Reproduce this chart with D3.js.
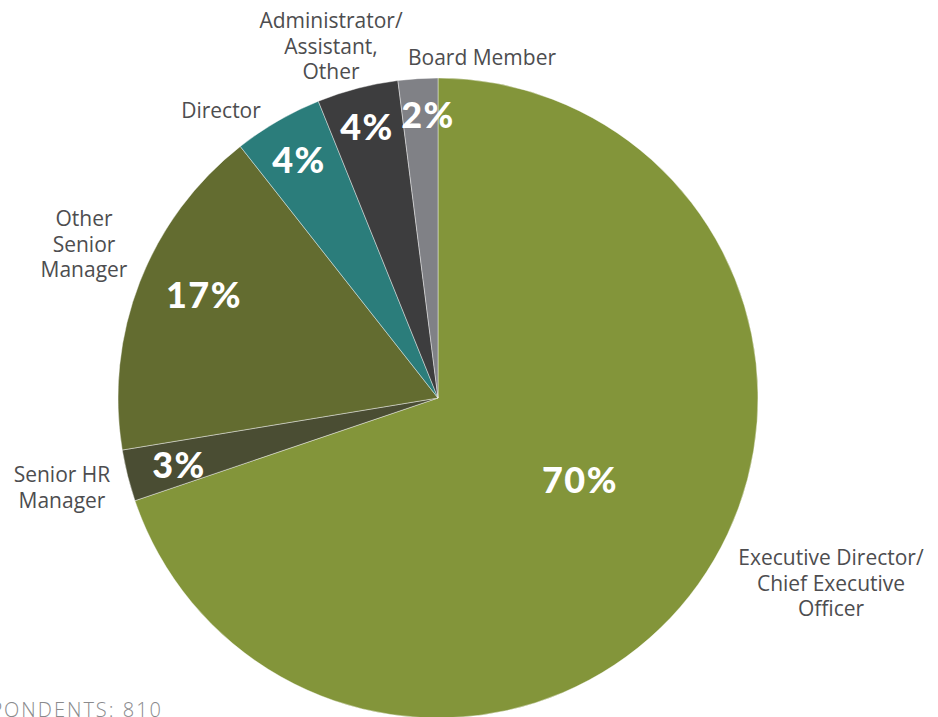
<!DOCTYPE html>
<html>
<head>
<meta charset="utf-8">
<script src="https://cdn.jsdelivr.net/npm/d3@7"></script>
<style>
  body { margin: 0; background: #fff; }
  svg { display: block; }
</style>
</head>
<body>
<div id="chart"></div>
<script>
var roles = ["Executive Director/\nChief Executive\nOfficer", "Senior HR\nManager",
             "Other\nSenior\nManager", "Director", "Administrator/\nAssistant,\nOther", "Board Member"];
var shares = [69.8, 2.6, 17.0, 4.5, 4.1, 2.0];
var pctLabels = ["70%", "3%", "17%", "4%", "4%", "2%"];
var colors = ["#83953a", "#4a4d33", "#636c30", "#2b7d7b", "#3d3d3e", "#808186"];

var width = 938, height = 717;
var cx = 438, cy = 398, radius = 320;

// label placement (x, first baseline) per slice
var pctPos = [[580, 493], [179, 478], [204, 308], [299, 173], [367, 140], [428, 128]];
var namePos = [[831, 565], [62, 482], [84, 226], [221, 118], [331, 28], [482, 65]];

var svg = d3.select("#chart")
    .append("svg")
    .attr("width", width)
    .attr("height", height);

var pie = d3.pie().sort(null).value(function(d) { return d; });
var arc = d3.arc().innerRadius(0).outerRadius(radius);

var g = svg.append("g")
    .attr("transform", "translate(" + cx + "," + cy + ")");

g.selectAll("path")
    .data(pie(shares))
    .enter()
    .append("path")
    .attr("d", arc)
    .attr("fill", function(d, i) { return colors[i]; })
    .attr("stroke", "#ffffff")
    .attr("stroke-width", 0.6)
    .attr("stroke-opacity", 0.7);

svg.selectAll(".pct")
    .data(pctLabels)
    .enter()
    .append("text")
    .attr("class", "pct")
    .attr("x", function(d, i) { return pctPos[i][0]; })
    .attr("y", function(d, i) { return pctPos[i][1]; })
    .attr("text-anchor", "middle")
    .style("font-family", "Lato, 'Open Sans', sans-serif")
    .style("font-weight", "900")
    .style("font-size", "36px")
    .style("letter-spacing", "1.5px")
    .style("fill", "#ffffff")
    .text(function(d) { return d; });

svg.selectAll(".name")
    .data(roles)
    .enter()
    .append("text")
    .attr("class", "name")
    .attr("text-anchor", "middle")
    .style("font-family", "'Open Sans', sans-serif")
    .style("font-size", "21px")
    .style("fill", "#4d4d4f")
    .each(function(d, i) {
        var t = d3.select(this);
        d.split("\n").forEach(function(line, j) {
            t.append("tspan")
                .attr("x", namePos[i][0])
                .attr("y", namePos[i][1] + j * 25.5)
                .text(line);
        });
    });

// footer note, partly off-canvas as in the source image
svg.append("text")
    .attr("x", 163)
    .attr("y", 717)
    .attr("text-anchor", "end")
    .style("font-family", "'Open Sans', sans-serif")
    .style("font-weight", "300")
    .style("font-size", "20px")
    .style("letter-spacing", "2px")
    .style("fill", "#8a8a8c")
    .text("TOTAL RESPONDENTS: 810");
</script>
</body>
</html>
